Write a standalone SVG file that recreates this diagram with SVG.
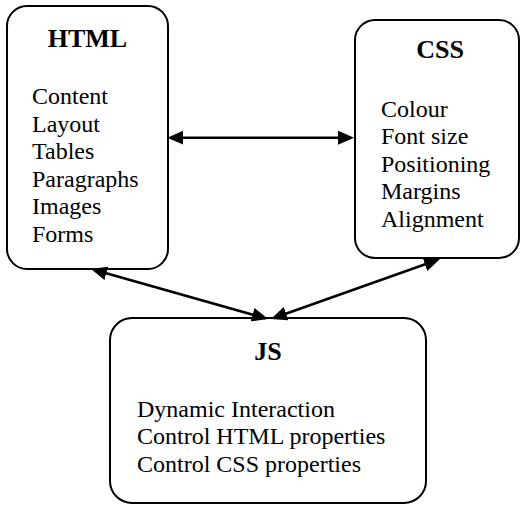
<svg xmlns="http://www.w3.org/2000/svg" width="521" height="505" viewBox="0 0 521 505">
<style>
.box{fill:#fff;stroke:#000;stroke-width:2}
.t{font-family:"Liberation Serif","Times New Roman",serif;font-size:26px;font-weight:bold;text-anchor:middle;fill:#000}
.b{font-family:"Liberation Serif","Times New Roman",serif;font-size:24px;fill:#000}
.c{stroke:#000;stroke-width:2.5;fill:none;marker-start:url(#ah);marker-end:url(#ah)}
</style>
<defs>
<marker id="ah" markerUnits="userSpaceOnUse" markerWidth="16" markerHeight="14" refX="13" refY="7" orient="auto-start-reverse">
<path d="M0,0 L16,7 L0,14 z" fill="#000"/>
</marker>
</defs>
<rect width="521" height="505" fill="#fff"/>
<g id="html">
<rect class="box" x="7" y="6" width="161" height="263" rx="20"/>
<text class="t" x="87.5" y="47">HTML</text>
<text class="b" x="32" y="104">Content</text>
<text class="b" x="32" y="131.6">Layout</text>
<text class="b" x="32" y="159.2">Tables</text>
<text class="b" x="32" y="186.8">Paragraphs</text>
<text class="b" x="32" y="214.4">Images</text>
<text class="b" x="32" y="242">Forms</text>
</g>
<g id="css">
<rect class="box" x="355" y="20" width="164" height="238" rx="20"/>
<text class="t" x="440" y="58">CSS</text>
<text class="b" x="381" y="116.5">Colour</text>
<text class="b" x="381" y="144">Font size</text>
<text class="b" x="381" y="171.5">Positioning</text>
<text class="b" x="381" y="199">Margins</text>
<text class="b" x="381" y="226.5">Alignment</text>
</g>
<g id="js">
<rect class="box" x="110" y="318" width="316" height="185" rx="22"/>
<text class="t" x="268" y="360">JS</text>
<text class="b" x="137" y="416.5">Dynamic Interaction</text>
<text class="b" x="137" y="444">Control HTML properties</text>
<text class="b" x="137" y="471.5">Control CSS properties</text>
</g>
<g id="connectors">
<line class="c" x1="170.3" y1="137.7" x2="351" y2="137.7"/>
<line class="c" x1="93.9" y1="269.8" x2="265.1" y2="318.2"/>
<line class="c" x1="273.8" y1="318" x2="437.2" y2="260"/>
</g>
</svg>
